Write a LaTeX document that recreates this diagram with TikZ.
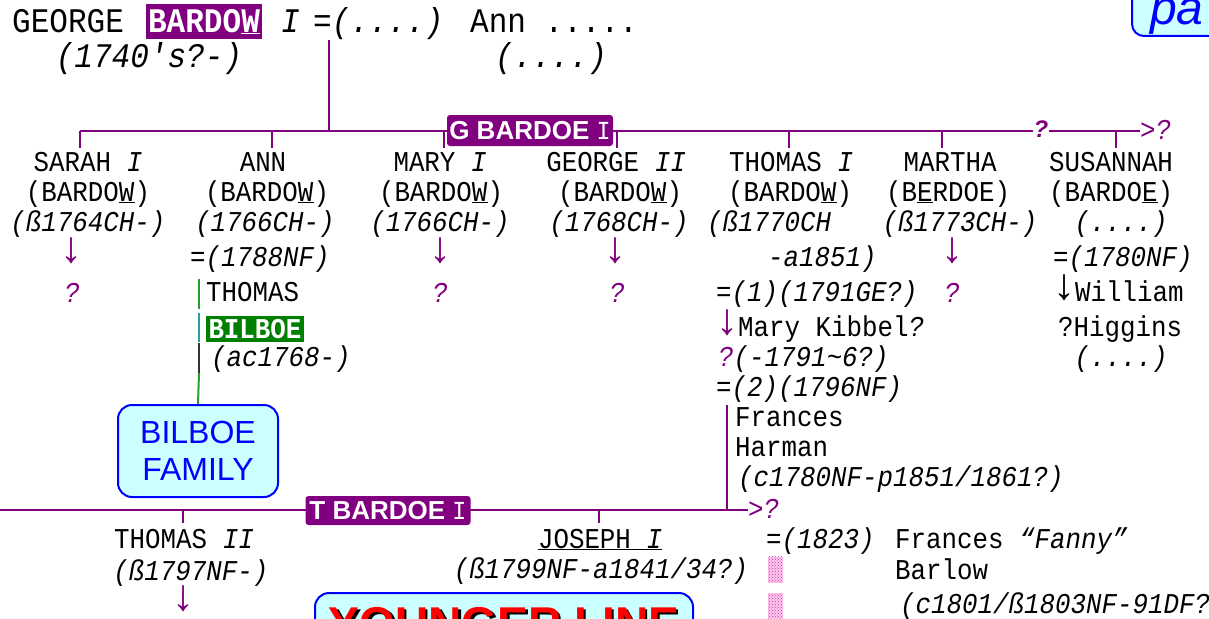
\documentclass[tikz,border=0pt]{standalone}
\usepackage{fontspec}
\setmainfont{Liberation Sans}
\newfontfamily\mono[FakeStretch=0.9]{Liberation Mono}
\newfontfamily\arrfont{Liberation Serif}
\usetikzlibrary{patterns}
\definecolor{pur}{HTML}{800080}
\definecolor{grn}{HTML}{008000}
\definecolor{lgrn}{HTML}{2E9B2E}
\definecolor{tl}{HTML}{2A9DA0}
\definecolor{dk}{HTML}{333333}
\definecolor{cyanbg}{HTML}{CCFFFF}
\definecolor{bl}{HTML}{0000FF}
\definecolor{dotc}{HTML}{CC33CC}
\newcommand{\txs}{\fontsize{28.7}{30}\selectfont\mono}
\newcommand{\txl}{\fontsize{34.5}{36}\selectfont\mono}
\newcommand{\dn}{{\arrfont\fontsize{44}{44}\selectfont\raisebox{2pt}{↓}}}
\begin{document}
\begin{tikzpicture}[x=1pt,y=-1pt,
 txt/.style={inner sep=0pt,anchor=base,font=\txs},
 txw/.style={inner sep=0pt,anchor=base west,font=\txs},
 bigw/.style={inner sep=0pt,anchor=base west,font=\txl},
 bigc/.style={inner sep=0pt,anchor=base,font=\txl},
 pbox/.style={fill=pur,text=white,rounded corners=3pt,inner sep=0pt,font=\fontsize{26}{28}\selectfont\bfseries},
 pline/.style={draw=pur,line width=2pt},
 fambox/.style={draw=bl,line width=2pt,fill=cyanbg,rounded corners=14pt,inner sep=0pt},
 dotbox/.style={preaction={fill=magenta!22},pattern=crosshatch dots,pattern color=dotc,inner sep=0pt,minimum width=15pt,minimum height=26pt}]
\useasboundingbox (0,0) rectangle (1209,618);
\fill[white] (0,0) rectangle (1209,618);

% ---------- top couple ----------
\node[bigw] (george) at (12,33) {GEORGE};
\node[fill=pur,text=white,inner sep=0pt,minimum width=116pt,minimum height=35pt] (bardow) at (204,21.5) {\txl\bfseries BARDO\underline{W}};
\node[bigw] (gI) at (281,33) {\itshape I};
\node[bigw] (geq) at (313,33) {=\itshape(....)};
\node[bigw] (ann0) at (470,33) {Ann .....};
\node[bigc] (gdate) at (149,67) {\itshape(1740's?-)};
\node[bigc] (adate) at (551,67) {\itshape(....)};

\coordinate (cpl) at (329,40);
\coordinate (gj) at (329,131);
\coordinate (gL) at (80,131);
\coordinate (gR) at (1140,131);
\draw[pline] (cpl) -- (gj);
\draw[pline] (gL) -- (gR);
\foreach \x/\n in {80/a,272/b,444/c,617/d,789/e,942/f,1116/g}{
  \coordinate (gt\n) at (\x,131);
  \coordinate (gb\n) at (\x,148);
  \draw[pline] (gt\n) -- (gb\n);
}
\node[pbox,minimum width=166pt,minimum height=31pt] (gbox) at (530,130.5) {G BARDOE {\mono\mdseries\fontsize{26}{26}\selectfont I}};
\node[fill=white,inner sep=1pt,text=pur,font=\fontsize{24}{24}\selectfont\bfseries\itshape] (gq) at (1041,129) {?};
\node[txw,text=pur] (gend) at (1140,139) {>\textit{?}};

% ---------- Sarah ----------
\node[txt] (sarah1) at (88,171) {SARAH \textit{I}};
\node[txt] (sarah2) at (88,201) {(BARDO\underline{W})};
\node[txt] (sarah3) at (88,231) {\textit{(ß1764CH-)}};
\node[txt,text=pur] (sarahA) at (71,264) {\dn};
\node[txt,text=pur] (sarahQ) at (72,302) {\textit{?}};

% ---------- Ann ----------
\node[txt] (ann1) at (263,171) {ANN};
\node[txt] (ann2) at (267,201) {(BARDO\underline{W})};
\node[txt] (ann3) at (265,231) {\textit{(1766CH-)}};
\node[txw] (ann4) at (190,266) {=\textit{(1788NF)}};
\node[txw] (tb1) at (206,301) {THOMAS};
\node[fill=grn,text=white,inner xsep=2.5pt,inner ysep=0pt,minimum height=26pt] (tb2) at (255,329) {\txs\bfseries BILBOE};
\node[txw] (tb3) at (211,366) {\textit{(ac1768-)}};
\node[fambox,minimum width=160pt,minimum height=92pt,align=center,text=bl,font=\fontsize{32}{37}\selectfont] (bfam) at (198,451) {BILBOE\\FAMILY};
\coordinate (gl1) at (199,279);
\coordinate (gl2) at (199,309);
\coordinate (gl3) at (199,313);
\coordinate (gl4) at (199,342);
\coordinate (gl5) at (199,343);
\coordinate (gl6) at (199,373);
\draw[lgrn,line width=2pt] (gl1) -- (gl2);
\draw[tl,line width=2pt] (gl3) -- (gl4);
\draw[dk,line width=2pt] (gl5) -- (gl6);
\draw[lgrn,line width=2pt] (gl6) -- (bfam.north);

% ---------- Mary ----------
\node[txt] (mary1) at (440,171) {MARY \textit{I}};
\node[txt] (mary2) at (441,201) {(BARDO\underline{W})};
\node[txt] (mary3) at (440,231) {\textit{(1766CH-)}};
\node[txt,text=pur] (maryA) at (440,264) {\dn};
\node[txt,text=pur] (maryQ) at (440,302) {\textit{?}};

% ---------- George II ----------
\node[txt] (geo1) at (616,171) {GEORGE \textit{II}};
\node[txt] (geo2) at (620,201) {(BARDO\underline{W})};
\node[txt] (geo3) at (619,231) {\textit{(1768CH-)}};
\node[txt,text=pur] (geoA) at (615,264) {\dn};
\node[txt,text=pur] (geoQ) at (617,302) {\textit{?}};

% ---------- Thomas I ----------
\node[txt] (th1) at (791,171) {THOMAS \textit{I}};
\node[txt] (th2) at (790,201) {(BARDO\underline{W})};
\node[txw] (th3) at (707,231) {\textit{(ß1770CH}};
\node[txw] (th4) at (768,266) {\textit{-a1851)}};
\node[txw] (th5) at (716,301) {=\textit{(1)(1791GE?)}};
\node[txw] (th6) at (716,336) {\textcolor{pur}{\dn}Mary Kibbel\textit{?}};
\node[txw] (th7) at (718,366) {\textcolor{pur}{\textit{?}}\textit{(-1791\textasciitilde 6?)}};
\node[txw] (th8) at (716,396) {=\textit{(2)(1796NF)}};
\node[txw] (fh1) at (735,426) {Frances};
\node[txw] (fh2) at (735,456) {Harman};
\node[txw] (fh3) at (738,486) {\textit{(c1780NF-p1851/1861?)}};

% ---------- Martha ----------
\node[txt] (mar1) at (950,171) {MARTHA};
\node[txt] (mar2) at (948,201) {(B\underline{E}RDOE)};
\node[txt] (mar3) at (960,231) {\textit{(ß1773CH-)}};
\node[txt,text=pur] (marA) at (952,264) {\dn};
\node[txt,text=pur] (marQ) at (952,302) {\textit{?}};

% ---------- Susannah ----------
\node[txt] (sus1) at (1111,171) {SUSANNAH};
\node[txt] (sus2) at (1111,201) {(BARDO\underline{E})};
\node[txt] (sus3) at (1121,231) {\textit{(....)}};
\node[txw] (sus4) at (1053,266) {=\textit{(1780NF)}};
\node[txw] (sus5) at (1053,301) {\dn William};
\node[txw] (sus6) at (1058,336) {?Higgins};
\node[txt] (sus7) at (1121,366) {\textit{(....)}};

% ---------- second generation line ----------
\coordinate (fv) at (727,405);
\coordinate (tj) at (727,510);
\coordinate (tL) at (0,510);
\coordinate (tR) at (748,510);
\draw[pline] (fv) -- (tj);
\draw[pline] (tL) -- (tR);
\foreach \x/\n in {183/a,599/b}{
  \coordinate (tt\n) at (\x,510);
  \coordinate (tb\n) at (\x,523);
  \draw[pline] (tt\n) -- (tb\n);
}
\node[pbox,minimum width=165pt,minimum height=29pt] (tbox) at (388,510.5) {T BARDOE {\mono\mdseries\fontsize{26}{26}\selectfont I}};
\node[txw,text=pur] (tend) at (748,518) {>\textit{?}};

% ---------- Thomas II ----------
\node[txt] (t21) at (184,548) {THOMAS \textit{II}};
\node[txt] (t22) at (191,580) {\textit{(ß1797NF-)}};
\node[txt,text=pur] (t2A) at (183,612) {\dn};

% ---------- Joseph I ----------
\node[txt] (jo1) at (600,548) {\underline{JOSEPH \textit{I}}};
\node[txt] (jo2) at (601,578) {\textit{(ß1799NF-a1841/34?)}};
\node[txw] (jo3) at (766,548) {=\textit{(1823)}};
\node[txw] (fb1) at (895,548) {Frances \textit{“Fanny”}};
\node[txw] (fb2) at (895,579) {Barlow};
\node[txw] (fb3) at (900,613) {\textit{(c1801/ß1803NF-91DF?)}};
\node[dotbox] (dot1) at (775.5,569.5) {};
\node[dotbox] (dot2) at (775.5,606) {};

% ---------- boxes ----------
\node[fambox,minimum width=378pt,minimum height=94pt] (ybox) at (504,640) {};
\node[inner sep=0pt,anchor=base,text=black,font=\fontsize{46}{46}\selectfont\bfseries] (yshadow) at (506.5,641.5) {YOUNGER LINE};
\node[inner sep=0pt,anchor=base,text=red,font=\fontsize{46}{46}\selectfont\bfseries] (ytext) at (504,639) {YOUNGER LINE};

\node[fambox,minimum width=160pt,minimum height=80pt,anchor=south west,rounded corners=12pt] (pabox) at (1131,37) {};
\node[inner sep=0pt,anchor=base west,text=bl,font=\fontsize{48}{48}\selectfont\itshape] (patext) at (1150,25) {pa};
\end{tikzpicture}
\end{document}
